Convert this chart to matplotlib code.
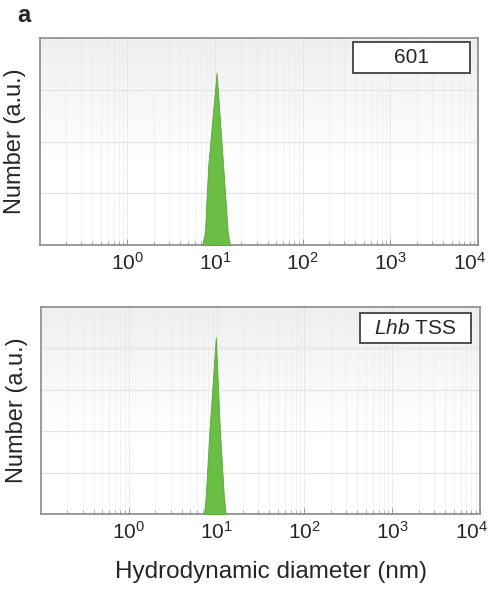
import numpy as np
import matplotlib
matplotlib.use('Agg')
import matplotlib.pyplot as plt
import matplotlib.transforms as mtransforms
from matplotlib.patches import Rectangle

plt.rcParams['font.family'] = ['Liberation Sans', 'DejaVu Sans']
plt.rcParams['mathtext.fontset'] = 'custom'
plt.rcParams['mathtext.rm'] = 'Liberation Sans'
plt.rcParams['mathtext.it'] = 'Liberation Sans:italic'

# size distributions (diameter in nm, number in a.u.)
diam_601 = [7.17, 7.7, 8.4, 10.46, 12.4, 14.0, 14.8]
num_601 = [0, 0.25, 1.55, 3.33, 1.55, 0.25, 0]
diam_lhb = [7.2, 7.5, 8.3, 9.8, 10.9, 12.1, 12.7]
num_lhb = [0, 0.42, 2.03, 4.27, 2.03, 0.42, 0]

XLIM = (0.1, 1e4)
XTICKS = [1, 10, 100, 1000, 10000]

GREEN = '#6abd45'
SPINE = '#8a8a8a'
BOX_EDGE = '#404040'
TXT = '#262626'

W, H = 495, 590
fig = plt.figure(figsize=(W / 100, H / 100), dpi=100, facecolor='white')


def panel(rect, diam, num, ymax, label, box):
    ax = fig.add_axes(rect)
    ax.set_xscale('log')
    ax.set_xlim(*XLIM)
    ax.set_ylim(0, ymax)

    # grey at the top fading to white lower down
    t = np.linspace(0, 1, 256)
    grad = 0.935 + 0.065 * np.clip(t * 1.6, 0, 1)
    img = np.tile(grad[:, None], (1, 2))
    ax.imshow(img, extent=[0, 1, 0, 1], transform=ax.transAxes, cmap='gray',
              vmin=0, vmax=1, aspect='auto', zorder=0, interpolation='bilinear')

    ax.fill_between(diam, num, 0, color=GREEN, lw=0.6, edgecolor='#5aa83a', zorder=3)

    ax.set_yticks(np.arange(1, ymax))
    ax.set_yticklabels([])
    ax.tick_params(axis='y', length=0)
    ax.set_xticks(XTICKS)
    ax.tick_params(axis='x', which='both', direction='in', colors=SPINE,
                   labelcolor=TXT, labelsize=15, pad=5)
    ax.tick_params(axis='x', which='major', length=4, width=0.6)
    ax.tick_params(axis='x', which='minor', length=3, width=0.5)
    ax.grid(axis='y', color='#e4e4e4', lw=0.9, zorder=1)
    ax.grid(axis='x', which='major', color='#dcdcdc', lw=0.6, ls=(0, (2, 1)), zorder=1)
    ax.grid(axis='x', which='minor', color='#e6e6e6', lw=0.5, ls=(0, (2, 1)), zorder=1)
    ax.set_axisbelow(True)
    for s in ax.spines.values():
        s.set_color(SPINE)
        s.set_linewidth(1.2)

    # last tick label sits a little left so it stays inside the figure
    last = ax.get_xticklabels()[-1]
    last.set_transform(last.get_transform() +
                       mtransforms.ScaledTranslation(-8 / 100, 0, fig.dpi_scale_trans))

    ax.set_ylabel('Number (a.u.)', fontsize=17, color=TXT, labelpad=6)

    x0, y0, bw, bh = box
    ax.add_patch(Rectangle((x0, y0), bw, bh, transform=ax.transAxes, facecolor='white',
                           edgecolor=BOX_EDGE, lw=1.3, zorder=5))
    ax.text(x0 + bw / 2, y0 + bh / 2, label, transform=ax.transAxes, ha='center',
            va='center', fontsize=15, color=TXT, zorder=6)
    return ax


ax1 = panel([39.5 / W, 1 - 245 / H, 438.5 / W, 207 / H], diam_601, num_601, 4, '601',
            (0.715, 0.831, 0.267, 0.15))
ax2 = panel([41 / W, 1 - 514 / H, 439 / W, 207 / H], diam_lhb, num_lhb, 5, r'$\it{Lhb}$ TSS',
            (0.727, 0.826, 0.252, 0.145))
ax2.set_xlabel('Hydrodynamic diameter (nm)', fontsize=17.5, color=TXT)
ax2.xaxis.set_label_coords(0.525, -0.225, transform=ax2.transAxes)

fig.text(17 / W, 1 - 15 / H, 'a', fontsize=17, fontweight='bold', va='center', ha='left',
         color=TXT)

fig.savefig('out.png', dpi=100, facecolor='white')
